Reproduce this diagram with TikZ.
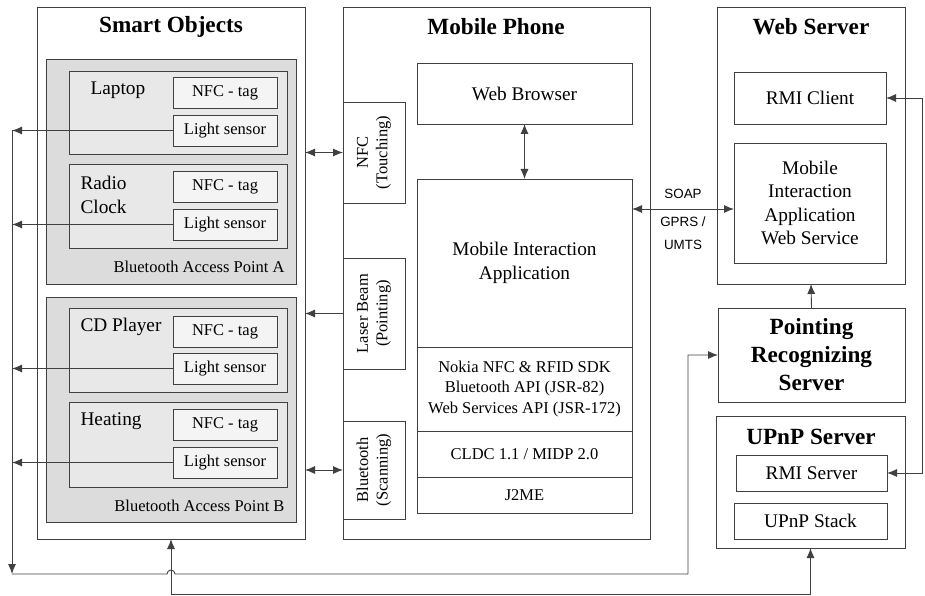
\documentclass[tikz,border=0pt]{standalone}
\usepackage{fontspec}
\setmainfont{Liberation Serif}
\newfontfamily\sansfont{Liberation Sans}
\usetikzlibrary{arrows.meta}

\definecolor{linegray}{HTML}{404040}
\definecolor{apgray}{HTML}{DCDCDC}
\definecolor{devgray}{HTML}{E8E8E8}
\definecolor{taggray}{HTML}{F4F4F4}

\begin{document}
\begin{tikzpicture}[x=1pt,y=-1pt,>={Latex[length=10pt,width=8pt]},
  box/.style={draw=linegray,line width=0.9pt,anchor=north west,inner sep=0pt,outer sep=0pt,
    align=center,font=\fontsize{19.3}{23.5}\selectfont},
  apbox/.style={box,fill=apgray},
  devbox/.style={box,fill=devgray,minimum width=218,minimum height=84},
  tagbox/.style={box,fill=taggray,minimum width=104,minimum height=31,font=\fontsize{16.5}{20.5}\selectfont},
  stackbox/.style={box,minimum width=215,font=\fontsize{16.5}{20.5}\selectfont},
  sidebox/.style={box,minimum width=62},
  title/.style={font=\bfseries\fontsize{23.2}{28}\selectfont,align=center},
  devlbl/.style={anchor=west,align=left,font=\fontsize{19.3}{24}\selectfont},
  aplbl/.style={anchor=east,font=\fontsize{16.5}{20}\selectfont},
  rotlbl/.style={rotate=90,align=center,font=\fontsize{16.5}{19.5}\selectfont},
  netlbl/.style={font=\sansfont\fontsize{13.4}{16}\selectfont},
  wire/.style={draw=linegray,line width=0.9pt}]
  \useasboundingbox (0,0) rectangle (925,596);

  % smart objects
  \node[box,minimum width=268,minimum height=532] (so) at (37,7) {};
  \node[title] (soT) at (171,27) {Smart Objects};
  \node[apbox,minimum width=250,minimum height=225] (apA) at (46,59) {};
  \node[aplbl] (apAT) at (288,267) {Bluetooth Access Point A};
  \node[devbox,minimum height=83] (lap) at (69,71) {};
  \node[devlbl] (lapT) at (87,90) {Laptop};
  \node[tagbox] (lapN) at (173,77) {NFC - tag};
  \node[tagbox] (lapL) at (173,115) {Light sensor};
  \node[devbox] (rad) at (69,164) {};
  \node[devlbl] (radT) at (77,195) {Radio\\Clock};
  \node[tagbox] (radN) at (173,171) {NFC - tag};
  \node[tagbox] (radL) at (173,209) {Light sensor};
  \node[apbox,minimum width=250,minimum height=225] (apB) at (46,297) {};
  \node[aplbl] (apBT) at (288,506) {Bluetooth Access Point B};
  \node[devbox] (cd) at (69,308) {};
  \node[devlbl] (cdT) at (77,327) {CD Player};
  \node[tagbox] (cdN) at (173,316) {NFC - tag};
  \node[tagbox] (cdL) at (173,353) {Light sensor};
  \node[devbox,minimum height=85] (heat) at (69,402) {};
  \node[devlbl] (heatT) at (77,421) {Heating};
  \node[tagbox] (heatN) at (173,409) {NFC - tag};
  \node[tagbox] (heatL) at (173,447) {Light sensor};

  % mobile phone
  \node[box,minimum width=307,minimum height=532] (mp) at (343,7) {};
  \node[title] (mpT) at (496,27) {Mobile Phone};
  \node[sidebox,minimum height=101] (nfc) at (343,102) {};
  \node[rotlbl] (nfcT) at (nfc.center) {NFC\\(Touching)};
  \node[sidebox,minimum height=111] (laser) at (343,258) {};
  \node[rotlbl] (laserT) at (laser.center) {Laser Beam\\(Pointing)};
  \node[sidebox,minimum height=98] (bt) at (343,421) {};
  \node[rotlbl] (btT) at (bt.center) {Bluetooth\\(Scanning)};
  \node[box,minimum width=215,minimum height=61] (wb) at (417,63) {Web Browser};
  \node[box,minimum width=215,minimum height=168] (mia) at (417,179) {Mobile Interaction\\Application};
  \node[stackbox,minimum height=84] (sdk) at (417,347) {Nokia NFC \& RFID SDK\\Bluetooth API (JSR-82)\\Web Services API (JSR-172)};
  \node[stackbox,minimum height=46] (cldc) at (417,431) {CLDC 1.1 / MIDP 2.0};
  \node[stackbox,minimum height=36] (j2me) at (417,477) {J2ME};

  % servers
  \node[box,minimum width=188,minimum height=277] (ws) at (717,7) {};
  \node[title] (wsT) at (811,27) {Web Server};
  \node[box,minimum width=152,minimum height=52] (rmic) at (734,72) {RMI Client};
  \node[box,minimum width=152,minimum height=120] (miaws) at (734,143) {Mobile\\Interaction\\Application\\Web Service};
  \node[box,minimum width=187,minimum height=94,font=\bfseries\fontsize{23.2}{28}\selectfont] (prs) at (718,308) {Pointing\\Recognizing\\Server};
  \node[box,minimum width=189,minimum height=132] (upnp) at (716,416) {};
  \node[title] (upnpT) at (811,437) {UPnP Server};
  \node[box,minimum width=151,minimum height=36] (rmis) at (736,455) {RMI Server};
  \node[box,minimum width=153,minimum height=36] (stack) at (734,503) {UPnP Stack};

  % connectors
  \coordinate (busTop) at (12,130.5);
  \coordinate (busBot) at (12,574);
  \coordinate (low) at (0,594);
  \coordinate (soap) at (683,209);
  \foreach \s in {lapL,radL,cdL,heatL}
    \draw[wire,->] (\s.west) -- (\s.west -| busTop);
  \draw[wire,->] (busTop) -- (busBot);
  \draw[wire,->] (busBot) -- ([xshift=-4pt]so.south |- busBot)
    arc[start angle=180,end angle=360,radius=4] -- (688,574) |- (prs.west);
  \draw[wire,<->] (so.south) -- (so.south |- low) -| (upnp.south);
  \draw[wire,<->] (nfc.west -| so.east) -- (nfc.west);
  \draw[wire,->] (laser.west) -- (laser.west -| so.east);
  \draw[wire,<->] (bt.west -| so.east) -- (bt.west);
  \draw[wire,<->] (wb.south) -- (mia.north);
  \draw[wire,<->] (soap -| mia.east) -- (soap -| miaws.west);
  \node[netlbl] (soapT) at (683,194) {SOAP};
  \node[netlbl] (gprsT) at (683,222) {GPRS /};
  \node[netlbl] (umtsT) at (683,245) {UMTS};
  \draw[wire,->] (prs.north) -- (ws.south);
  \draw[wire,<->] (rmic.east) -- ++(36,0) |- (rmis.east);
\end{tikzpicture}
\end{document}
